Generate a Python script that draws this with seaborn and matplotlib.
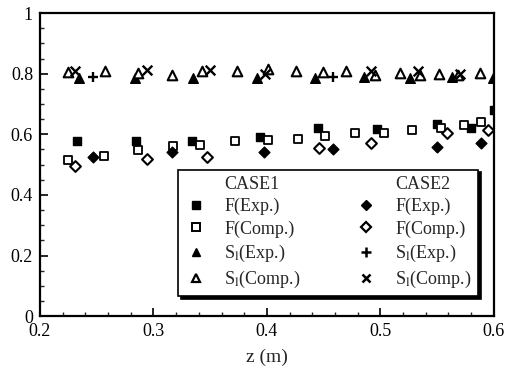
import matplotlib
matplotlib.use("Agg")
import matplotlib.pyplot as plt
from matplotlib.lines import Line2D
from matplotlib.ticker import MultipleLocator
import seaborn as sns
import pandas as pd

# CASE1 measurements and computations
f_exp1_z = [0.233, 0.285, 0.334, 0.394, 0.445, 0.497, 0.550, 0.580, 0.600]
f_exp1 = [0.578, 0.578, 0.578, 0.591, 0.620, 0.617, 0.634, 0.620, 0.680]
f_comp1_z = [0.225, 0.256, 0.286, 0.317, 0.341, 0.372, 0.401, 0.427, 0.451,
             0.478, 0.503, 0.528, 0.553, 0.574, 0.589]
f_comp1 = [0.515, 0.528, 0.548, 0.561, 0.564, 0.578, 0.581, 0.584, 0.594,
           0.604, 0.604, 0.614, 0.620, 0.630, 0.640]
s_exp1_z = [0.234, 0.284, 0.335, 0.391, 0.442, 0.486, 0.526, 0.563, 0.599]
s_exp1 = [0.785, 0.785, 0.785, 0.787, 0.785, 0.790, 0.785, 0.790, 0.787]
s_comp1_z = [0.225, 0.257, 0.286, 0.316, 0.343, 0.374, 0.401, 0.426, 0.449,
             0.470, 0.495, 0.517, 0.535, 0.552, 0.568, 0.588]
s_comp1 = [0.805, 0.809, 0.803, 0.795, 0.810, 0.810, 0.815, 0.810, 0.805,
           0.808, 0.797, 0.803, 0.797, 0.800, 0.797, 0.803]

# CASE2 measurements and computations
f_exp2_z = [0.247, 0.316, 0.397, 0.458, 0.550, 0.589]
f_exp2 = [0.525, 0.541, 0.541, 0.551, 0.558, 0.571]
f_comp2_z = [0.231, 0.294, 0.347, 0.446, 0.492, 0.559, 0.595]
f_comp2 = [0.495, 0.518, 0.525, 0.554, 0.571, 0.604, 0.614]
s_exp2_z = [0.247, 0.458]
s_exp2 = [0.790, 0.790]
s_comp2_z = [0.231, 0.294, 0.350, 0.398, 0.492, 0.533, 0.570]
s_comp2 = [0.810, 0.812, 0.812, 0.800, 0.810, 0.810, 0.800]

sns.set_theme(style="ticks")
plt.rcParams["font.family"] = ["Liberation Serif", "DejaVu Serif"]
plt.rcParams["mathtext.fontset"] = "stix"

fig = plt.figure(figsize=(5.06, 3.75), dpi=100)
ax = fig.add_axes([0.079, 0.157, 0.897, 0.808])

series = [
    (f_exp1_z, f_exp1, "s", "black", "black", 1.0, 40),
    (f_comp1_z, f_comp1, "s", "white", "black", 1.3, 40),
    (s_exp1_z, s_exp1, "^", "black", "black", 1.0, 48),
    (s_comp1_z, s_comp1, "^", "white", "black", 1.5, 48),
    (f_exp2_z, f_exp2, "D", "black", "black", 1.0, 30),
    (f_comp2_z, f_comp2, "D", "white", "black", 1.5, 30),
    (s_exp2_z, s_exp2, "+", "black", "black", 1.7, 62),
    (s_comp2_z, s_comp2, "x", "black", "black", 1.7, 48),
]
for zs, vals, mk, fc, ec, lw, size in series:
    df = pd.DataFrame({"z": zs, "v": vals})
    if mk in ("+", "x"):
        sns.scatterplot(data=df, x="z", y="v", marker=mk, color=ec,
                        linewidth=lw, s=size, ax=ax, zorder=3)
    else:
        sns.scatterplot(data=df, x="z", y="v", marker=mk, facecolor=fc,
                        edgecolor=ec, linewidth=lw, s=size, ax=ax, zorder=3)

ax.set_xlim(0.2, 0.6)
ax.set_ylim(0, 1)
ax.xaxis.set_major_locator(MultipleLocator(0.1))
ax.xaxis.set_minor_locator(MultipleLocator(0.02))
ax.yaxis.set_major_locator(MultipleLocator(0.2))
ax.yaxis.set_minor_locator(MultipleLocator(0.05))
ax.set_xticks([0.2, 0.3, 0.4, 0.5, 0.6], ["0.2", "0.3", "0.4", "0.5", "0.6"])
ax.set_yticks([0, 0.2, 0.4, 0.6, 0.8, 1.0], ["0", "0.2", "0.4", "0.6", "0.8", "1"])
ax.tick_params(axis="both", which="major", direction="in", length=6, width=1.2,
               labelsize=13, colors="black", pad=5)
ax.tick_params(axis="both", which="minor", direction="in", length=3, width=1.0)
ax.tick_params(axis="both", top=False, right=False, which="both")
for sp in ax.spines.values():
    sp.set_linewidth(1.6)
    sp.set_color("black")
ax.set_xlabel("z (m)", fontsize=14, labelpad=6)
ax.set_ylabel("")


def proxy(mk, fc, lw=1.0, ms=6):
    return Line2D([], [], linestyle="none", marker=mk, markerfacecolor=fc,
                  markeredgecolor="black", color="black",
                  markeredgewidth=lw, markersize=ms)


blank = Line2D([], [], linestyle="none")
handles = [blank,
           proxy("s", "black"), proxy("s", "white", 1.4),
           proxy("^", "black"), proxy("^", "white", 1.6),
           blank,
           proxy("D", "black", 1.0, 5), proxy("D", "white", 1.6, 5),
           proxy("+", "black", 1.8, 7), proxy("x", "black", 1.8, 6)]
labels = ["CASE1", "F(Exp.)", "F(Comp.)", "S$_\\mathrm{l}$(Exp.)",
          "S$_\\mathrm{l}$(Comp.)",
          "CASE2", "F(Exp.)", "F(Comp.)", "S$_\\mathrm{l}$(Exp.)",
          "S$_\\mathrm{l}$(Comp.)"]
leg = ax.legend(handles, labels, ncol=2, loc="lower left",
                bbox_to_anchor=(0.305, 0.065, 0.66, 0.39), mode="expand",
                fontsize=13, frameon=True, fancybox=False,
                shadow={"color": "black", "alpha": 1.0, "ox": 2, "oy": -2},
                handlelength=1.2, handletextpad=1.0, labelspacing=0.28,
                columnspacing=1.5, borderpad=0.35, borderaxespad=0)
leg.get_frame().set_edgecolor("black")
leg.get_frame().set_linewidth(1.2)

fig.savefig("out.png", dpi=100)
